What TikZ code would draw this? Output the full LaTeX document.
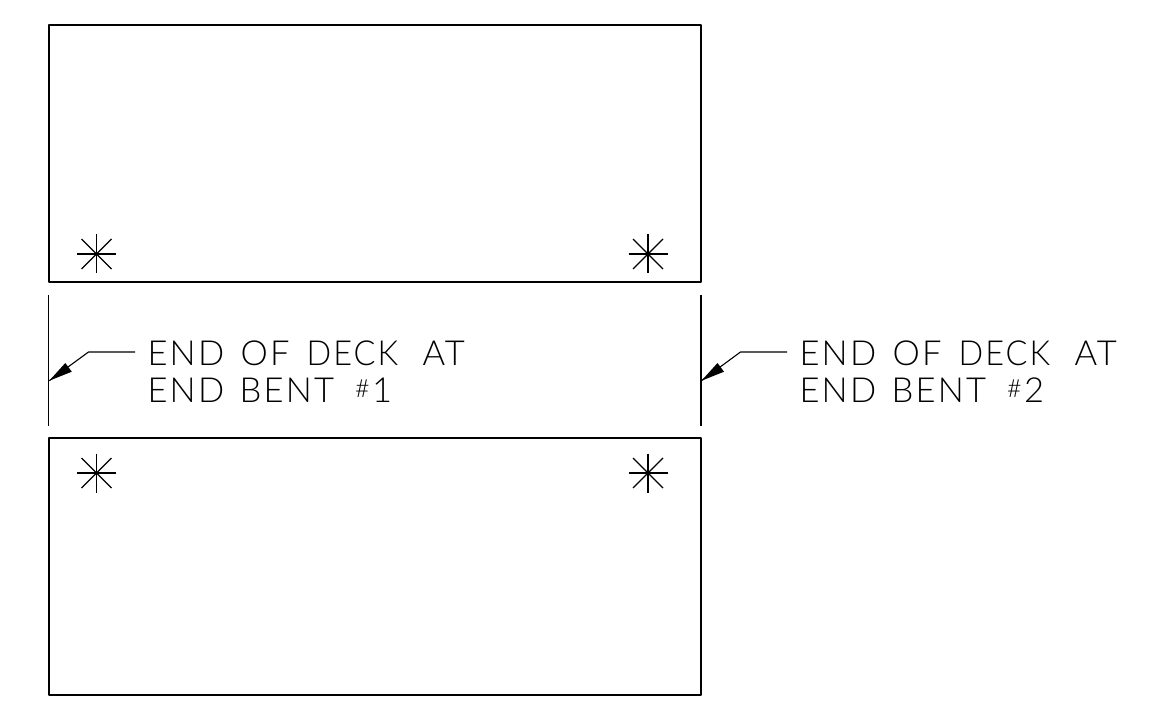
\documentclass[tikz,border=0pt]{standalone}
\usepackage{fontspec}
\newfontfamily\cadfont[LetterSpace=6.5]{Lato Light}
\begin{document}
\begin{tikzpicture}[x=1pt,y=-1pt,
  deck/.style={draw=black,line width=2pt,line join=round,minimum width=652.5pt,minimum height=257pt,inner sep=0pt,outer sep=0pt,anchor=north west},
  endline/.style={draw=black,line width=1.2pt},
  starline/.style={draw=black,line width=1.35pt},
  leader/.style={draw=black,line width=1.1pt},
  arrowfill/.style={fill=black,draw=none},
  note/.style={font=\cadfont\fontsize{34.5}{37}\selectfont,anchor=base west,inner sep=0pt,outer sep=0pt,text=black},
  hashnote/.style={font=\cadfont\fontsize{25}{25}\selectfont,anchor=base west,inner sep=0pt,outer sep=0pt,text=black}]
\useasboundingbox (0,0) rectangle (1175,719);
\node[deck] (top) at (48.6,25) {};
\node[deck] (bot) at (48.6,438) {};
\foreach \n/\x/\y in {sa/96.5/254,sb/648/254,sc/96.5/473,sd/648/473}{
  \coordinate (\n) at (\x,\y);
  \draw[starline] (\x-19.5,\y) -- (\x+19.5,\y);
  \draw[starline] (\x,\y-19.5) -- (\x,\y+19.5);
  \draw[starline] (\x-15,\y-15) -- (\x+15,\y+15);
  \draw[starline] (\x-15,\y+15) -- (\x+15,\y-15);
}
\foreach \n/\x/\lx/\tx/\num in {a/48.8/135/149/1,b/701/787/801/2}{
  \coordinate (\n t) at (\x,295);
  \coordinate (\n b) at (\x,425.5);
  \draw[endline] (\n t) -- (\n b);
  \coordinate (\n tip) at (\x+0.5,380.7);
  \coordinate (\n el) at (\lx-46.5,352);
  \coordinate (\n st) at (\lx,352);
  \node[note] (\n w1) at (\tx-1.5,365) {END};
  \node[note] (\n w2) at (\tx+91.5,365) {OF};
  \node[note,xscale=0.94,transform shape] (\n w3) at (\tx+157.5,365) {DECK};
  \node[note] (\n w4) at (\tx+273.5,365) {AT};
  \node[note] (\n w5) at (\tx-1.5,402) {END};
  \node[note] (\n w6) at (\tx+90.5,402) {BENT};
  \node[hashnote] (\n w7) at (\tx+206,397) {\#};
  \node[note] (\n w8) at (\tx+223,402) {\num};
  \draw[leader] (\n st) -- (\n el) -- (\n tip);
  \fill[arrowfill] (\n tip) -- (\x+16.5,363) -- (\x+23,371.7) -- cycle;
}
\end{tikzpicture}
\end{document}
